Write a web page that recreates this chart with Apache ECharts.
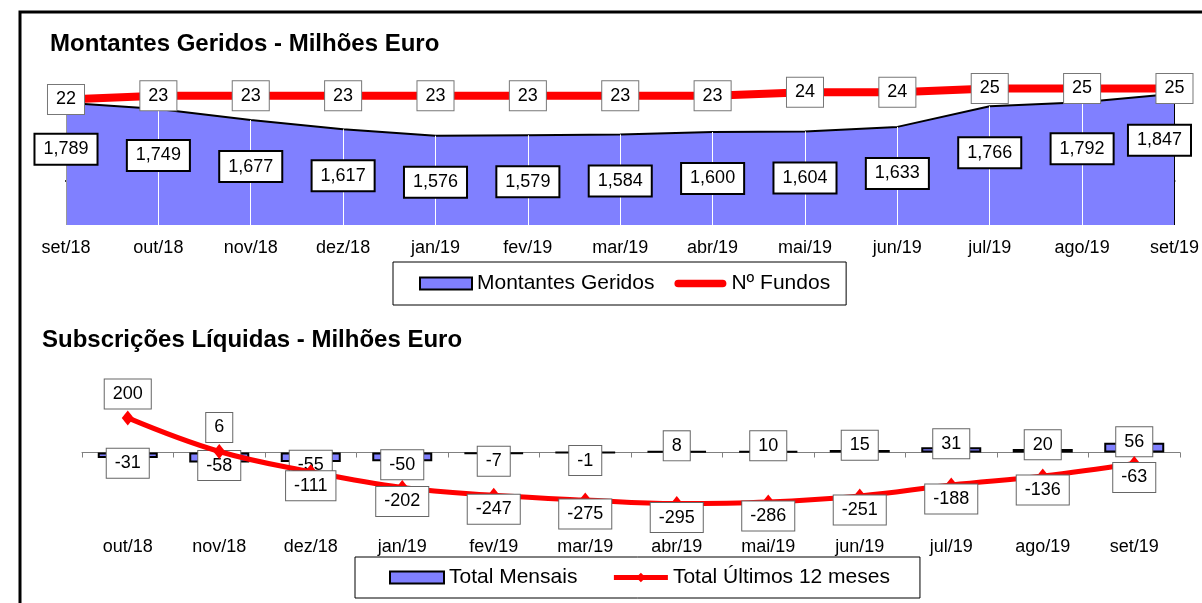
<!DOCTYPE html>
<html>
<head>
<meta charset="utf-8">
<script src="https://cdn.jsdelivr.net/npm/echarts@6/dist/echarts.min.js"></script>
<style>
  html, body { margin: 0; padding: 0; background: #fff; }
  #main { width: 1202px; height: 603px; }
</style>
</head>
<body>
<div id="main"></div>
<script>
// montantes geridos (milhoes euro) e numero de fundos
var meses1 = ['set/18', 'out/18', 'nov/18', 'dez/18', 'jan/19', 'fev/19', 'mar/19', 'abr/19', 'mai/19', 'jun/19', 'jul/19', 'ago/19', 'set/19'];
var montantes = [1789, 1749, 1677, 1617, 1576, 1579, 1584, 1600, 1604, 1633, 1766, 1792, 1847];
var fundos = [22, 23, 23, 23, 23, 23, 23, 23, 24, 24, 25, 25, 25];

// subscricoes liquidas
var meses2 = ['out/18', 'nov/18', 'dez/18', 'jan/19', 'fev/19', 'mar/19', 'abr/19', 'mai/19', 'jun/19', 'jul/19', 'ago/19', 'set/19'];
var totalMensais = [-31, -58, -55, -50, -7, -1, 8, 10, 15, 31, 20, 56];
var totalUltimos12 = [200, 6, -111, -202, -247, -275, -295, -286, -251, -188, -136, -63];

var FONT = 'Arial, "Liberation Sans", sans-serif';
var ROXO = '#8080FF';
var VERMELHO = '#FF0000';

function caixa(extra) {
    var o = {
        show: true,
        color: '#000',
        fontFamily: FONT,
        fontSize: 18,
        lineHeight: 19,
        backgroundColor: '#fff',
        borderColor: '#666',
        borderWidth: 1,
        padding: [5, 8]
    };
    for (var k in extra) o[k] = extra[k];
    return o;
}

// linhas brancas verticais dentro da area
var linhasArea = montantes.map(function (v, i) {
    var cor = '#fff';
    if (i === 0) cor = '#999';
    if (i === montantes.length - 1) cor = '#000';
    return [
        { coord: [i, 1000], lineStyle: { color: cor } },
        { coord: [i, v] }
    ];
});

var barras = totalMensais.map(function (v) {
    return {
        value: v,
        label: { position: 'inside', offset: [0, v < 0 ? 8 : -6] }
    };
});

var pontos12 = totalUltimos12.map(function (v) {
    if (v < 0) {
        return { value: v, label: { position: 'inside', offset: [0, 14] } };
    }
    return { value: v, label: { position: 'top', distance: 2 } };
});

var myChart = echarts.init(document.getElementById('main'));
var option = {
    animation: false,
    backgroundColor: '#fff',
    graphic: [{
        type: 'rect',
        shape: { x: 20, y: 12, width: 1200, height: 610 },
        style: { fill: 'none', stroke: '#000', lineWidth: 3 },
        z: 100
    }],
    title: [{
        text: 'Montantes Geridos - Milhões Euro',
        left: 50, top: 32, padding: 0,
        textStyle: { fontFamily: FONT, fontSize: 24, fontWeight: 'bold', color: '#000' }
    }, {
        text: 'Subscrições Líquidas - Milhões Euro',
        left: 42, top: 328, padding: 0,
        textStyle: { fontFamily: FONT, fontSize: 24, fontWeight: 'bold', color: '#000' }
    }],
    legend: [{
        left: 393, top: 262,
        padding: [11, 16, 11, 26],
        itemWidth: 52, itemHeight: 12, itemGap: 20,
        borderColor: '#000', borderWidth: 1, borderRadius: 0,
        backgroundColor: '#fff',
        textStyle: { fontFamily: FONT, fontSize: 21, color: '#000' },
        lineStyle: { width: 'inherit' },
        data: [{
            name: 'Montantes Geridos',
            icon: 'rect',
            itemStyle: { color: ROXO, borderColor: '#000', borderWidth: 2 }
        }, {
            name: 'Nº Fundos',
            icon: 'path://M4,0 L51,0 A4,4 0 0 1 51,8 L4,8 A4,4 0 0 1 4,0 Z'
        }]
    }, {
        left: 355, top: 557,
        padding: [10, 30, 10, 34],
        itemWidth: 54, itemHeight: 12, itemGap: 34,
        borderColor: '#000', borderWidth: 1, borderRadius: 0,
        backgroundColor: '#fff',
        textStyle: { fontFamily: FONT, fontSize: 21, color: '#000' },
        lineStyle: { width: 'inherit' },
        data: [{
            name: 'Total Mensais',
            icon: 'rect',
            itemStyle: { color: ROXO, borderColor: '#000', borderWidth: 2 }
        }, {
            name: 'Total Últimos 12 meses'
        }]
    }],
    grid: [
        { left: 66, right: 27, top: 70, height: 155 },
        { left: 82, right: 22, top: 409.25, height: 112.5 }
    ],
    xAxis: [{
        gridIndex: 0,
        type: 'category',
        data: meses1,
        boundaryGap: false,
        axisLine: { lineStyle: { color: '#000', width: 2 } },
        axisTick: { show: true, length: 6, lineStyle: { color: '#000' } },
        axisLabel: { fontFamily: FONT, fontSize: 18, color: '#000', margin: 14, interval: 0 },
        splitLine: { show: false }
    }, {
        gridIndex: 1,
        type: 'category',
        data: meses2,
        position: 'bottom',
        axisLine: { show: false, onZero: false },
        axisTick: { show: false },
        axisLabel: { fontFamily: FONT, fontSize: 18, color: '#000', margin: 16, interval: 0 },
        splitLine: { show: false }
    }, {
        gridIndex: 1,
        type: 'category',
        data: meses2,
        position: 'top',
        axisLine: { show: true, onZero: true, lineStyle: { color: '#808080', width: 1 } },
        axisTick: { show: true, inside: true, length: 5, lineStyle: { color: '#808080' } },
        axisLabel: { show: false },
        splitLine: { show: false }
    }],
    yAxis: [
        { gridIndex: 0, type: 'value', min: 1000, max: 2000, show: false, splitLine: { show: false } },
        { gridIndex: 0, type: 'value', min: -12, max: 30, show: false, splitLine: { show: false } },
        { gridIndex: 1, type: 'value', min: -400, max: 250, show: false, splitLine: { show: false } }
    ],
    series: [{
        name: 'Montantes Geridos',
        type: 'line',
        xAxisIndex: 0, yAxisIndex: 0,
        data: montantes,
        symbol: 'none',
        itemStyle: { color: ROXO },
        lineStyle: { color: '#000', width: 2 },
        areaStyle: { color: ROXO, opacity: 1 },
        z: 2,
        markLine: {
            silent: true,
            symbol: 'none',
            z: 3,
            label: { show: false },
            lineStyle: { color: '#fff', width: 1, type: 'solid' },
            data: linhasArea
        }
    }, {
        // so as etiquetas dos montantes
        type: 'line',
        xAxisIndex: 0, yAxisIndex: 0,
        data: montantes,
        symbol: 'circle', symbolSize: 0, showAllSymbol: true,
        lineStyle: { width: 0, opacity: 0 },
        itemStyle: { color: ROXO },
        label: caixa({
            position: 'bottom', distance: 32,
            borderColor: '#000', borderWidth: 2,
            formatter: function (p) { return echarts.format.addCommas(p.value); }
        }),
        // a ultima etiqueta fica dentro do grafico
        labelLayout: function (p) {
            var r = p.labelRect;
            if (r.x + r.width > 1192) return { dx: 1192 - (r.x + r.width) };
            return {};
        },
        z: 4
    }, {
        name: 'Nº Fundos',
        type: 'line',
        xAxisIndex: 0, yAxisIndex: 1,
        data: fundos,
        symbol: 'circle', symbolSize: 0, showAllSymbol: true,
        itemStyle: { color: VERMELHO },
        lineStyle: { color: VERMELHO, width: 8 },
        label: caixa({ position: 'inside', borderColor: '#777' }),
        z: 5
    }, {
        name: 'Total Mensais',
        type: 'bar',
        xAxisIndex: 1, yAxisIndex: 2,
        data: barras,
        barWidth: 60,
        itemStyle: { color: ROXO, borderColor: '#000', borderWidth: 2 },
        label: caixa({}),
        z: 2
    }, {
        name: 'Total Últimos 12 meses',
        type: 'line',
        xAxisIndex: 1, yAxisIndex: 2,
        data: pontos12,
        smooth: 0.4,
        symbol: 'diamond', symbolSize: [12, 15], showAllSymbol: true,
        itemStyle: { color: VERMELHO },
        lineStyle: { color: VERMELHO, width: 5 },
        label: caixa({}),
        z: 4
    }]
};
myChart.setOption(option);
</script>
</body>
</html>
